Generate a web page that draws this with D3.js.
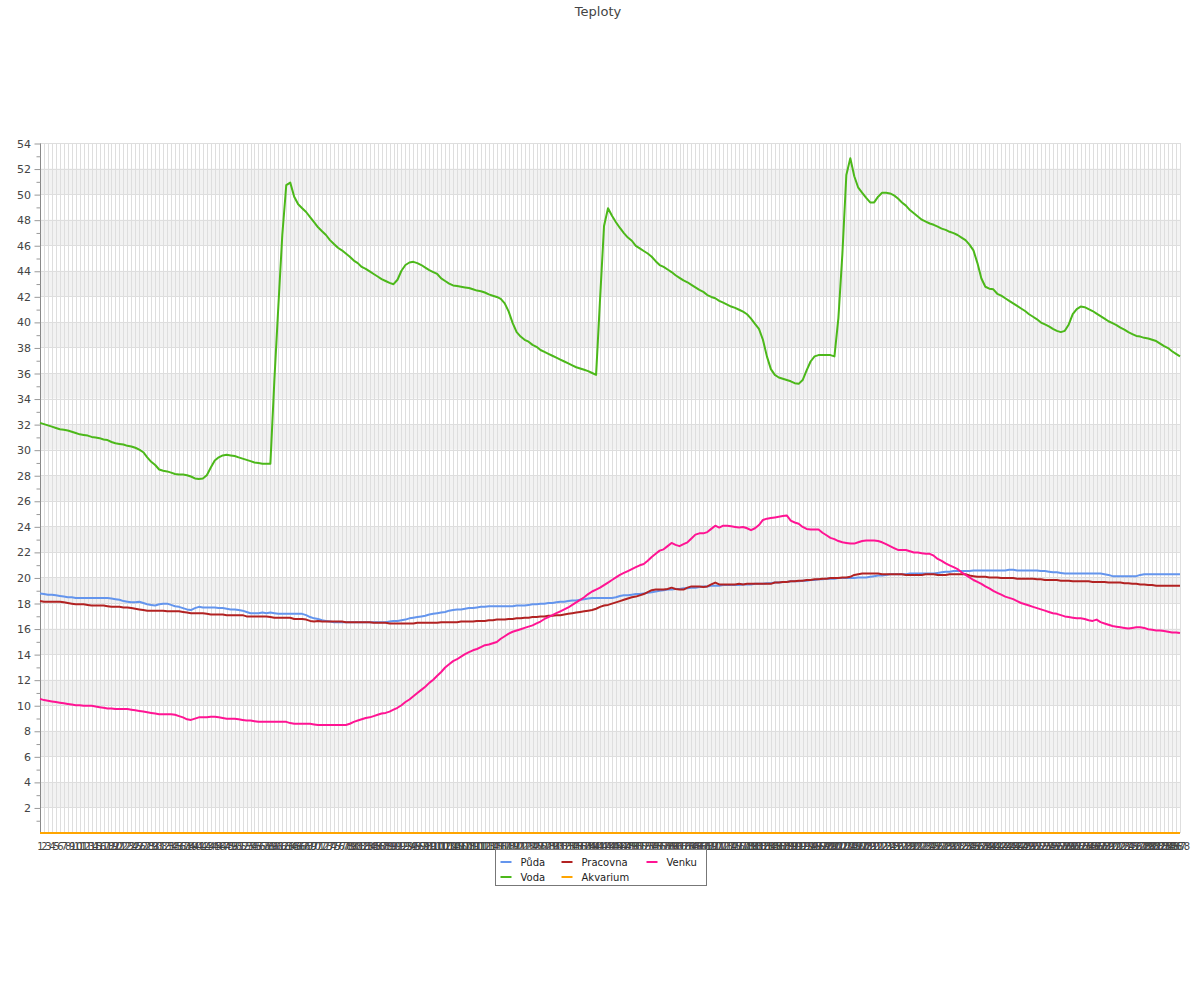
<!DOCTYPE html>
<html><head><meta charset="utf-8">
<script src="https://cdn.jsdelivr.net/npm/d3@7"></script>
<style>body{margin:0;background:#fff;} svg{display:block;font-family:"DejaVu Sans",sans-serif;}</style>
</head><body><svg id="c" width="1200" height="1000"></svg>
<script>
const categories = d3.range(1, 289).map(String);
const seriesNames = ["Půda", "Voda", "Pracovna", "Akvarium", "Venku"];
const seriesColors = ["#6495ed", "#4cb81a", "#b22222", "#ffa500", "#ff1493"];
const yMajorTicks = [2,4,6,8,10,12,14,16,18,20,22,24,26,28,30,32,34,36,38,40,42,44,46,48,50,52,54];
const yMinorTicks = [1,3,5,7,9,11,13,15,17,19,21,23,25,27,29,31,33,35,37,39,41,43,45,47,49,51,53];

const puda = [
18.75,18.7,18.65,18.65,18.6,18.55,18.5,18.45,18.45,18.4,18.4,18.4,
18.4,18.4,18.4,18.4,18.4,18.4,18.35,18.3,18.25,18.15,18.1,18.05,
18.05,18.1,18.0,17.9,17.85,17.8,17.9,17.95,17.95,17.85,17.75,17.7,
17.6,17.5,17.45,17.6,17.7,17.65,17.65,17.65,17.65,17.6,17.6,17.55,
17.5,17.5,17.45,17.4,17.3,17.2,17.2,17.2,17.25,17.2,17.25,17.2,
17.15,17.15,17.15,17.15,17.15,17.15,17.15,17.05,16.9,16.8,16.75,16.65,
16.6,16.55,16.5,16.5,16.5,16.5,16.5,16.5,16.5,16.5,16.5,16.5,
16.5,16.5,16.5,16.5,16.55,16.6,16.6,16.65,16.7,16.8,16.85,16.9,
16.95,17.0,17.1,17.15,17.2,17.25,17.3,17.4,17.45,17.5,17.5,17.55,
17.6,17.6,17.65,17.7,17.7,17.75,17.75,17.75,17.75,17.75,17.75,17.75,
17.8,17.8,17.8,17.85,17.9,17.9,17.95,17.95,18.0,18.0,18.05,18.1,
18.1,18.15,18.2,18.2,18.25,18.3,18.35,18.4,18.4,18.4,18.4,18.4,
18.4,18.45,18.55,18.6,18.6,18.65,18.7,18.7,18.75,18.8,18.85,18.9,
18.95,19.0,19.05,19.05,19.1,19.1,19.15,19.15,19.2,19.2,19.25,19.3,
19.3,19.35,19.35,19.35,19.4,19.4,19.4,19.4,19.4,19.45,19.45,19.45,
19.5,19.5,19.5,19.55,19.55,19.6,19.6,19.65,19.65,19.7,19.7,19.7,
19.75,19.75,19.8,19.8,19.85,19.85,19.9,19.9,19.9,19.95,19.95,19.95,
19.95,19.95,20.0,20.0,20.0,20.05,20.1,20.15,20.15,20.2,20.25,20.25,
20.25,20.25,20.25,20.3,20.3,20.3,20.3,20.3,20.3,20.3,20.35,20.4,
20.45,20.45,20.5,20.5,20.5,20.5,20.5,20.55,20.55,20.55,20.55,20.55,
20.55,20.55,20.55,20.55,20.6,20.6,20.55,20.55,20.55,20.55,20.55,20.55,
20.5,20.5,20.45,20.4,20.4,20.35,20.3,20.3,20.3,20.3,20.3,20.3,
20.3,20.3,20.3,20.3,20.25,20.2,20.1,20.1,20.1,20.1,20.1,20.1,
20.1,20.2,20.25,20.25,20.25,20.25,20.25,20.25,20.25,20.25,20.25,20.25
];

const voda = [
32.1,32.0,31.9,31.8,31.7,31.6,31.55,31.5,31.4,31.3,31.2,31.15,
31.1,31.0,30.95,30.9,30.8,30.75,30.6,30.5,30.45,30.4,30.3,30.25,
30.15,30.0,29.8,29.4,29.05,28.8,28.45,28.35,28.3,28.2,28.1,28.05,
28.05,28.0,27.9,27.75,27.7,27.75,28.0,28.6,29.15,29.4,29.55,29.6,
29.55,29.5,29.4,29.3,29.2,29.1,29.0,28.95,28.9,28.9,28.9,35.4,
41.2,46.8,50.7,50.9,49.8,49.2,48.9,48.6,48.2,47.8,47.4,47.1,
46.8,46.4,46.1,45.8,45.6,45.35,45.1,44.8,44.6,44.3,44.15,43.95,
43.75,43.55,43.35,43.2,43.05,42.95,43.3,44.0,44.45,44.65,44.7,44.6,
44.45,44.25,44.05,43.9,43.75,43.4,43.2,43.0,42.85,42.8,42.75,42.7,
42.65,42.55,42.45,42.4,42.3,42.15,42.05,41.95,41.8,41.45,40.8,39.9,
39.2,38.85,38.6,38.45,38.2,38.05,37.8,37.65,37.5,37.35,37.2,37.05,
36.9,36.75,36.6,36.45,36.35,36.25,36.15,36.0,35.85,41.8,47.5,48.9,
48.3,47.8,47.35,46.95,46.6,46.35,45.95,45.75,45.55,45.35,45.1,44.75,
44.45,44.3,44.1,43.9,43.65,43.45,43.25,43.1,42.9,42.7,42.5,42.35,
42.1,41.95,41.85,41.65,41.5,41.35,41.2,41.1,40.95,40.8,40.6,40.25,
39.85,39.45,38.6,37.3,36.3,35.85,35.65,35.55,35.45,35.35,35.2,35.15,
35.45,36.2,36.9,37.3,37.4,37.4,37.4,37.4,37.3,40.3,45.3,51.5,
52.8,51.4,50.5,50.1,49.7,49.35,49.35,49.8,50.1,50.1,50.05,49.9,
49.65,49.35,49.1,48.75,48.5,48.25,48.0,47.85,47.7,47.6,47.45,47.3,
47.2,47.05,46.95,46.8,46.6,46.4,46.05,45.6,44.6,43.4,42.75,42.6,
42.55,42.2,42.05,41.85,41.65,41.45,41.25,41.05,40.85,40.6,40.4,40.2,
39.95,39.8,39.65,39.45,39.3,39.2,39.3,39.8,40.6,41.0,41.2,41.15,
41.0,40.85,40.65,40.45,40.25,40.05,39.9,39.75,39.55,39.4,39.2,39.05,
38.9,38.85,38.75,38.7,38.6,38.5,38.3,38.1,37.95,37.7,37.5,37.3
];

const pracovna = [
18.15,18.1,18.1,18.1,18.1,18.1,18.05,18.0,17.95,17.9,17.9,17.9,
17.85,17.8,17.8,17.8,17.8,17.75,17.7,17.7,17.7,17.65,17.65,17.6,
17.55,17.5,17.45,17.4,17.4,17.4,17.4,17.4,17.35,17.35,17.35,17.35,
17.3,17.25,17.2,17.2,17.2,17.2,17.15,17.1,17.1,17.1,17.1,17.05,
17.05,17.05,17.05,17.05,16.95,16.95,16.95,16.95,16.95,16.95,16.9,16.85,
16.85,16.85,16.85,16.85,16.75,16.75,16.75,16.7,16.6,16.55,16.6,16.55,
16.55,16.55,16.55,16.55,16.55,16.5,16.5,16.5,16.5,16.5,16.5,16.5,
16.45,16.45,16.45,16.45,16.4,16.4,16.4,16.4,16.4,16.4,16.4,16.45,
16.45,16.45,16.45,16.45,16.45,16.5,16.5,16.5,16.5,16.5,16.55,16.55,
16.55,16.55,16.6,16.6,16.6,16.65,16.65,16.7,16.7,16.7,16.75,16.75,
16.8,16.8,16.85,16.85,16.9,16.9,16.95,16.95,17.0,17.0,17.05,17.05,
17.1,17.15,17.2,17.25,17.3,17.35,17.4,17.45,17.55,17.7,17.8,17.85,
17.95,18.05,18.15,18.25,18.35,18.45,18.5,18.6,18.7,18.85,19.0,19.05,
19.05,19.05,19.1,19.2,19.1,19.05,19.05,19.2,19.3,19.3,19.3,19.25,
19.3,19.45,19.6,19.45,19.45,19.45,19.45,19.45,19.5,19.45,19.5,19.5,
19.5,19.5,19.5,19.5,19.5,19.6,19.6,19.65,19.65,19.7,19.7,19.75,
19.75,19.8,19.8,19.85,19.85,19.9,19.9,19.95,19.95,19.95,20.0,20.0,
20.05,20.2,20.25,20.3,20.3,20.3,20.3,20.3,20.25,20.25,20.25,20.25,
20.25,20.25,20.2,20.2,20.2,20.2,20.2,20.25,20.25,20.25,20.2,20.2,
20.2,20.25,20.25,20.25,20.25,20.25,20.15,20.1,20.05,20.05,20.05,20.0,
20.0,20.0,19.95,19.95,19.95,19.95,19.9,19.9,19.9,19.9,19.9,19.85,
19.85,19.8,19.8,19.8,19.8,19.75,19.75,19.75,19.7,19.7,19.7,19.7,
19.7,19.65,19.65,19.65,19.65,19.6,19.6,19.6,19.6,19.55,19.55,19.5,
19.5,19.45,19.45,19.4,19.4,19.35,19.35,19.35,19.35,19.35,19.35,19.35
];

const akvarium = [
0,0,0,0,0,0,0,0,0,0,0,0, 0,0,0,0,0,0,0,0,0,0,0,0,
0,0,0,0,0,0,0,0,0,0,0,0, 0,0,0,0,0,0,0,0,0,0,0,0,
0,0,0,0,0,0,0,0,0,0,0,0, 0,0,0,0,0,0,0,0,0,0,0,0,
0,0,0,0,0,0,0,0,0,0,0,0, 0,0,0,0,0,0,0,0,0,0,0,0,
0,0,0,0,0,0,0,0,0,0,0,0, 0,0,0,0,0,0,0,0,0,0,0,0,
0,0,0,0,0,0,0,0,0,0,0,0, 0,0,0,0,0,0,0,0,0,0,0,0,
0,0,0,0,0,0,0,0,0,0,0,0, 0,0,0,0,0,0,0,0,0,0,0,0,
0,0,0,0,0,0,0,0,0,0,0,0, 0,0,0,0,0,0,0,0,0,0,0,0,
0,0,0,0,0,0,0,0,0,0,0,0, 0,0,0,0,0,0,0,0,0,0,0,0,
0,0,0,0,0,0,0,0,0,0,0,0, 0,0,0,0,0,0,0,0,0,0,0,0,
0,0,0,0,0,0,0,0,0,0,0,0, 0,0,0,0,0,0,0,0,0,0,0,0,
0,0,0,0,0,0,0,0,0,0,0,0, 0,0,0,0,0,0,0,0,0,0,0,0
];

const venku = [
10.5,10.4,10.35,10.3,10.25,10.2,10.15,10.1,10.05,10.0,10.0,9.95,
9.95,9.95,9.9,9.85,9.8,9.75,9.75,9.7,9.7,9.7,9.7,9.65,
9.6,9.55,9.5,9.45,9.4,9.35,9.3,9.3,9.3,9.3,9.25,9.15,
9.05,8.9,8.85,8.95,9.05,9.05,9.05,9.1,9.1,9.05,9.0,8.95,
8.95,8.95,8.9,8.85,8.8,8.8,8.75,8.7,8.7,8.7,8.7,8.7,
8.7,8.7,8.7,8.6,8.55,8.55,8.55,8.55,8.55,8.5,8.45,8.45,
8.45,8.45,8.45,8.45,8.45,8.45,8.55,8.7,8.8,8.9,9.0,9.05,
9.15,9.25,9.35,9.4,9.5,9.65,9.8,10.0,10.25,10.45,10.7,10.95,
11.2,11.45,11.75,12.0,12.3,12.6,12.95,13.2,13.45,13.6,13.8,14.0,
14.15,14.3,14.4,14.55,14.7,14.75,14.85,14.95,15.2,15.4,15.6,15.75,
15.85,15.95,16.05,16.15,16.25,16.4,16.55,16.75,16.9,17.05,17.2,17.35,
17.5,17.65,17.85,18.05,18.25,18.45,18.7,18.9,19.05,19.2,19.4,19.6,
19.8,20.0,20.2,20.35,20.5,20.65,20.8,20.95,21.05,21.3,21.6,21.85,
22.1,22.2,22.45,22.7,22.55,22.45,22.6,22.75,23.05,23.35,23.45,23.45,
23.55,23.8,24.05,23.9,24.05,24.05,24.0,23.95,23.9,23.95,23.85,23.7,
23.85,24.1,24.5,24.6,24.65,24.7,24.75,24.8,24.85,24.45,24.3,24.2,
23.95,23.8,23.75,23.75,23.75,23.5,23.3,23.1,23.0,22.85,22.75,22.7,
22.65,22.65,22.75,22.85,22.9,22.9,22.9,22.85,22.75,22.6,22.45,22.3,
22.15,22.15,22.15,22.05,21.95,21.95,21.9,21.85,21.85,21.7,21.45,21.3,
21.1,20.95,20.8,20.65,20.4,20.2,20.0,19.8,19.65,19.5,19.3,19.15,
18.95,18.8,18.65,18.5,18.4,18.3,18.15,18.0,17.9,17.8,17.7,17.6,
17.5,17.4,17.3,17.2,17.15,17.05,16.95,16.9,16.85,16.8,16.8,16.75,
16.65,16.6,16.7,16.5,16.4,16.3,16.2,16.15,16.1,16.05,16.0,16.05,
16.1,16.1,16.05,15.95,15.9,15.85,15.85,15.8,15.75,15.7,15.7,15.65
];

const seriesValues = [puda, voda, pracovna, akvarium, venku];
// legend layout: index into series, with column and row
const legendOrder = [0, 2, 4, 1, 3];
const legendCol = [0, 1, 2, 0, 1];
const legendRow = [0, 0, 0, 1, 1];

const svg = d3.select("#c");
const L = 40, R = 1180, T = 143, B = 833;
const x = d3.scalePoint().domain(categories).range([L, R]);
const y = d3.scaleLinear().domain([0, 54]).range([B, T]);

// title
svg.append("text").attr("x", 598).attr("y", 16).attr("text-anchor", "middle")
  .attr("font-size", 13).attr("fill", "#444").text("Teploty");

// bands
const bandG = svg.append("g");
yMajorTicks.filter(v => (v / 2) % 2 === 0).forEach(v => {
  bandG.append("rect").attr("x", L).attr("width", R - L)
    .attr("y", y(v)).attr("height", y(v - 2) - y(v)).attr("fill", "#f2f2f2");
});

// vertical grid
svg.append("g").selectAll("line").data(categories).join("line")
  .attr("x1", d => Math.round(x(d)) + 0.5).attr("x2", d => Math.round(x(d)) + 0.5)
  .attr("y1", T).attr("y2", B).attr("stroke", "#dedede").attr("stroke-width", 1);

// horizontal grid
svg.append("g").selectAll("line").data(yMajorTicks).join("line")
  .attr("x1", L).attr("x2", R)
  .attr("y1", d => Math.round(y(d)) + 0.5).attr("y2", d => Math.round(y(d)) + 0.5)
  .attr("stroke", "#dedede").attr("stroke-width", 1);

// y axis
const yAxis = svg.append("g").attr("transform", `translate(${L + 0.5},0.5)`)
  .call(d3.axisLeft(y).tickValues(yMajorTicks).tickSize(6).tickPadding(3.5).tickFormat(d3.format("d")));
yAxis.select(".domain").attr("stroke", "#888").attr("d", `M0,${T}V${B}`);
yAxis.selectAll(".tick line").attr("stroke", "#999");
yAxis.selectAll(".tick text").attr("fill", "#444").attr("font-size", 11).attr("font-family", "DejaVu Sans, sans-serif");
const yMinor = svg.append("g").attr("transform", `translate(${L + 0.5},0.5)`)
  .call(d3.axisLeft(y).tickValues(yMinorTicks).tickSize(4).tickFormat(""));
yMinor.select(".domain").remove();
yMinor.selectAll(".tick line").attr("stroke", "#999");

// x axis
const xAxis = svg.append("g").attr("transform", `translate(0,${B})`)
  .call(d3.axisBottom(x).tickSize(0).tickPadding(10));
xAxis.select(".domain").attr("stroke", "#888").attr("d", `M${L},0.5H${R}`);
xAxis.selectAll(".tick text").attr("fill", "#444").attr("font-size", 10).attr("font-family", "DejaVu Sans, sans-serif");

// lines
const line = d3.line().x((d, i) => x(categories[i])).y(d => y(d));
seriesValues.forEach((vals, k) => {
  svg.append("path").datum(vals).attr("d", line).attr("fill", "none")
    .attr("stroke", seriesColors[k]).attr("stroke-width", 2)
    .attr("stroke-linejoin", "round").attr("stroke-linecap", "butt");
});

// legend
const lg = svg.append("g");
lg.append("rect").attr("x", 495.5).attr("y", 849.5).attr("width", 211).attr("height", 36)
  .attr("fill", "#fff").attr("stroke", "#777");
const colX = [500.5, 561.5, 646.5];
const rowY = [862, 877];
legendOrder.forEach((k, pos) => {
  const cx = colX[legendCol[pos]], cy = rowY[legendRow[pos]];
  lg.append("line").attr("x1", cx).attr("x2", cx + 11).attr("y1", cy).attr("y2", cy)
    .attr("stroke", seriesColors[k]).attr("stroke-width", 2);
  lg.append("text").attr("x", cx + 20).attr("y", cy).attr("dy", "0.35em")
    .attr("font-size", 10).attr("fill", "#222").text(seriesNames[k]);
});
</script></body></html>
